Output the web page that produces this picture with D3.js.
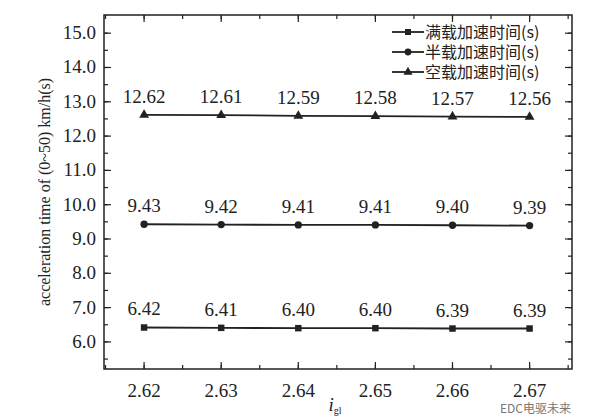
<!DOCTYPE html>
<html><head><meta charset="utf-8">
<script src="https://cdn.jsdelivr.net/npm/d3@7"></script>
<style>body{margin:0;background:#fff}text{font-family:"Liberation Serif","DejaVu Serif",serif;fill:#222}</style>
</head><body><svg id="c" width="595" height="418"></svg>
<script>
var ratios = [2.62, 2.63, 2.64, 2.65, 2.66, 2.67];
var fullLoad = [6.42, 6.41, 6.40, 6.40, 6.39, 6.39];
var halfLoad = [9.43, 9.42, 9.41, 9.41, 9.40, 9.39];
var emptyLoad = [12.62, 12.61, 12.59, 12.58, 12.57, 12.56];
var seriesNames = ["满载加速时间(s)", "半载加速时间(s)", "空载加速时间(s)"];
var yTicks = [6, 7, 8, 9, 10, 11, 12, 13, 14, 15];

var svg = d3.select("#c");
var m = {l: 104, r: 572, t: 15, b: 369};
var x = d3.scaleLinear().domain([2.6148, 2.6755]).range([m.l, m.r]);
var y = d3.scaleLinear().domain([5.21, 15.53]).range([m.b, m.t]);

svg.append("rect").attr("x", m.l).attr("y", m.t).attr("width", m.r - m.l).attr("height", m.b - m.t)
  .attr("fill", "none").attr("stroke", "#222").attr("stroke-width", 1.5);

var minorX = d3.range(0, 13).map(function (i) { return 2.615 + i * 0.005; }).filter(function (v) { return v > 2.6148 && v < 2.6755; });
var minorY = d3.range(0, 21).map(function (i) { return 5.5 + i * 0.5; }).filter(function (v) { return v < 15.5; });

function ticks(g, vals, len, isX) {
  vals.forEach(function (v) {
    if (isX) {
      g.append("line").attr("x1", x(v)).attr("x2", x(v)).attr("y1", m.b).attr("y2", m.b - len);
      g.append("line").attr("x1", x(v)).attr("x2", x(v)).attr("y1", m.t).attr("y2", m.t + len);
    } else {
      g.append("line").attr("y1", y(v)).attr("y2", y(v)).attr("x1", m.l).attr("x2", m.l + len);
      g.append("line").attr("y1", y(v)).attr("y2", y(v)).attr("x1", m.r).attr("x2", m.r - len);
    }
  });
}
var tg = svg.append("g").attr("stroke", "#222").attr("stroke-width", 1.2);
ticks(tg, minorX, 4, true);
ticks(tg, minorY, 4, false);
ticks(tg, ratios, 7, true);
ticks(tg, yTicks, 7, false);

svg.selectAll(".yl").data(yTicks).enter().append("text")
  .attr("x", m.l - 8).attr("y", function (d) { return y(d) + 6; })
  .attr("text-anchor", "end").attr("font-size", 19).text(function (d) { return d.toFixed(1); });
svg.selectAll(".xl").data(ratios).enter().append("text")
  .attr("x", function (d) { return x(d); }).attr("y", m.b + 28)
  .attr("text-anchor", "middle").attr("font-size", 19).text(function (d) { return d.toFixed(2); });

var xt = svg.append("text").attr("x", 335).attr("y", 411).attr("text-anchor", "middle");
xt.append("tspan").attr("font-style", "italic").attr("font-size", 19).text("i");
xt.append("tspan").attr("font-size", 10).attr("dy", 3).text("gl");

svg.append("text").attr("transform", "translate(50," + ((m.t + m.b) / 2) + ") rotate(-90)")
  .attr("text-anchor", "middle").attr("font-size", 16).text("acceleration time of (0~50) km/h(s)");

var series = [fullLoad, halfLoad, emptyLoad];
var shapes = [d3.symbolSquare, d3.symbolCircle, d3.symbolTriangle];
var line = d3.line().x(function (d, i) { return x(ratios[i]); }).y(function (d) { return y(d); });

series.forEach(function (s, k) {
  svg.append("path").attr("d", line(s)).attr("fill", "none").attr("stroke", "#222").attr("stroke-width", 1.8);
  svg.selectAll(".p" + k).data(s).enter().append("path")
    .attr("transform", function (d, i) { return "translate(" + x(ratios[i]) + "," + y(d) + ")"; })
    .attr("d", d3.symbol().type(shapes[k]).size(42)).attr("fill", "#222");
  svg.selectAll(".v" + k).data(s).enter().append("text")
    .attr("x", function (d, i) { return x(ratios[i]); }).attr("y", function (d) { return y(d) - 12; })
    .attr("text-anchor", "middle").attr("font-size", 19).text(function (d) { return d.toFixed(2); });
});

var lg = svg.append("g");
seriesNames.forEach(function (n, k) {
  var ly = 32 + k * 20;
  lg.append("line").attr("x1", 392).attr("x2", 424).attr("y1", ly).attr("y2", ly).attr("stroke", "#222").attr("stroke-width", 1.8);
  lg.append("path").attr("transform", "translate(408," + ly + ")").attr("d", d3.symbol().type(shapes[k]).size(36)).attr("fill", "#222");
  lg.append("text").attr("x", 425).attr("y", ly + 6).attr("font-size", 16)
    .style("font-family", "'Noto Sans CJK SC', serif").text(n);
});

svg.append("text").attr("x", 500).attr("y", 413).attr("font-size", 12)
  .style("font-family", "'Noto Sans CJK SC', sans-serif").style("fill", "#777").text("EDC电驱未来");
</script></body></html>
